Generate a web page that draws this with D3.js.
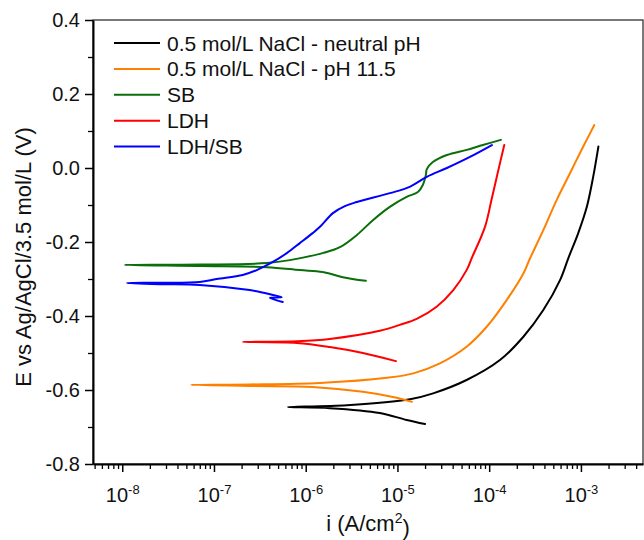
<!DOCTYPE html>
<html>
<head>
<meta charset="utf-8">
<script src="https://cdn.jsdelivr.net/npm/d3@7"></script>
<style>
  html, body { margin: 0; padding: 0; background: #fff; }
  svg { display: block; font-family: "Liberation Sans", Arial, sans-serif; }
</style>
</head>
<body>
<svg id="chart" width="644" height="540"></svg>
<script>
// Potentiodynamic polarization curves: current density i (A/cm²) vs potential E (V).
// Each sweep runs from the cathodic end, through the corrosion potential, up the anodic branch.

const seriesNames = [
  "0.5 mol/L NaCl - neutral pH",
  "0.5 mol/L NaCl - pH 11.5",
  "SB",
  "LDH",
  "LDH/SB"
];
const seriesColors = ["#000000", "#ff8000", "#0a6e0a", "#ff0000", "#0000ff"];

const neutralI = [2.0e-5, 1.26e-5, 6.43e-6, 1.83e-6, 6.38e-7,
                  2.81e-6, 1.37e-5, 2.45e-5, 5.67e-5, 1.31e-4, 2.36e-4, 3.89e-4,
                  5.92e-4, 7.28e-4, 9.35e-4, 1.16e-3, 1.36e-3, 1.55e-3];
const neutralE = [-0.692, -0.681, -0.662, -0.649, -0.646,
                  -0.641, -0.625, -0.609, -0.573, -0.519, -0.456, -0.384,
                  -0.303, -0.244, -0.176, -0.105, -0.024, 0.058];

const alkalineI = [1.44e-5, 8.91e-6, 4.20e-6, 1.19e-6, 2.45e-7, 5.58e-8,
                   2.45e-7, 1.43e-6, 7.66e-6, 1.49e-5, 2.90e-5, 5.67e-5, 9.40e-5,
                   1.55e-4, 2.36e-4, 2.79e-4, 3.89e-4, 5.45e-4, 7.60e-4, 1.06e-3, 1.40e-3];
const alkalineE = [-0.632, -0.619, -0.605, -0.592, -0.589, -0.586,
                   -0.585, -0.581, -0.567, -0.555, -0.528, -0.483, -0.429,
                   -0.357, -0.285, -0.244, -0.168, -0.086, -0.014, 0.058, 0.116];

const sbI = [4.52e-6, 2.54e-6, 1.53e-6, 8.63e-7, 3.77e-7, 7.0e-8, 1.06e-8,
             7.0e-8, 3.77e-7, 6.71e-7, 1.53e-6, 2.36e-6, 3.61e-6, 5.40e-6, 8.26e-6,
             1.26e-5, 1.67e-5, 1.89e-5, 2.04e-5, 2.09e-5, 2.43e-5, 3.46e-5, 5.71e-5,
             8.53e-5, 1.34e-4];
const sbE = [-0.305, -0.295, -0.281, -0.276, -0.268, -0.265, -0.262,
             -0.261, -0.257, -0.249, -0.230, -0.214, -0.181, -0.141, -0.105,
             -0.078, -0.065, -0.046, -0.019, -0.003, 0.016, 0.035, 0.049,
             0.062, 0.076];

const ldhI = [9.62e-6, 4.20e-6, 1.83e-6, 8.00e-7, 2.06e-7,
              8.00e-7, 1.83e-6, 6.43e-6, 1.06e-5, 1.62e-5, 2.67e-5, 4.06e-5,
              5.67e-5, 6.44e-5, 9.00e-5, 1.06e-4, 1.26e-4, 1.46e-4];
const ldhE = [-0.522, -0.500, -0.484, -0.473, -0.470,
              -0.468, -0.462, -0.440, -0.424, -0.408, -0.375, -0.330,
              -0.276, -0.244, -0.159, -0.086, -0.005, 0.062];

const ldhSbI = [5.62e-7, 4.06e-7, 5.48e-7, 4.38e-7, 3.58e-7, 2.45e-7, 7.0e-8, 2.56e-8, 1.12e-8,
                2.56e-8, 7.0e-8, 1.07e-7, 2.06e-7, 2.93e-7, 4.38e-7, 6.22e-7, 8.63e-7,
                1.19e-6, 1.43e-6, 1.98e-6, 2.67e-6, 3.61e-6, 8.26e-6, 1.36e-5, 2.09e-5,
                3.46e-5, 6.17e-5, 1.07e-4];
const ldhSbE = [-0.362, -0.351, -0.349, -0.343, -0.338, -0.330, -0.316, -0.314, -0.311,
                -0.310, -0.308, -0.300, -0.289, -0.276, -0.254, -0.230, -0.203,
                -0.176, -0.159, -0.122, -0.103, -0.092, -0.068, -0.051, -0.024,
                0.000, 0.030, 0.062];

const seriesI = [neutralI, alkalineI, sbI, ldhI, ldhSbI];
const seriesE = [neutralE, alkalineE, sbE, ldhE, ldhSbE];

// Axis limits and tick values
const xDomain = [4.8e-9, 4.75e-3];
const yDomain = [-0.8, 0.4];
const xMajorTicks = [1e-8, 1e-7, 1e-6, 1e-5, 1e-4, 1e-3];
const yMajorTicks = [-0.8, -0.6, -0.4, -0.2, 0.0, 0.2, 0.4];
const yMinorTicks = [-0.7, -0.5, -0.3, -0.1, 0.1, 0.3];
const xTitle = "i (A/cm";
const yTitle = "E vs Ag/AgCl/3.5 mol/L (V)";

// Layout
const plot = { left: 93, right: 643, top: 20, bottom: 464 };
const svg = d3.select("#chart");

const x = d3.scaleLog().domain(xDomain).range([plot.left, plot.right]);
const y = d3.scaleLinear().domain(yDomain).range([plot.bottom, plot.top]);

// Minor log ticks: 2..9 within each decade
const xMinorTicks = [];
for (let k = -9; k <= -3; k++) {
  for (let m = 2; m <= 9; m++) {
    const v = m * Math.pow(10, k);
    if (v >= xDomain[0] && v <= xDomain[1]) xMinorTicks.push(v);
  }
}

// Frame
svg.append("rect")
  .attr("x", plot.left).attr("y", plot.top)
  .attr("width", plot.right - plot.left).attr("height", plot.bottom - plot.top)
  .attr("fill", "none").attr("stroke", "#333").attr("stroke-width", 1.3);

// Curves
const line = d3.line()
  .x(d => x(d[0]))
  .y(d => y(d[1]))
  .curve(d3.curveCatmullRom.alpha(0.5));

seriesNames.forEach((name, s) => {
  const pts = seriesI[s].map((v, j) => [v, seriesE[s][j]]);
  svg.append("path")
    .datum(pts)
    .attr("d", line)
    .attr("fill", "none")
    .attr("stroke", seriesColors[s])
    .attr("stroke-width", 2)
    .attr("stroke-linejoin", "round")
    .attr("stroke-linecap", "round");
});

// Bottom axis: minor ticks, then major ticks with power-of-ten labels
svg.append("g")
  .attr("transform", `translate(0,${plot.bottom})`)
  .call(d3.axisBottom(x).tickValues(xMinorTicks).tickSize(5).tickFormat(""))
  .call(g => g.select(".domain").remove())
  .selectAll("line").attr("stroke", "#000").attr("stroke-width", 1.3);

const xAxisG = svg.append("g")
  .attr("transform", `translate(0,${plot.bottom})`)
  .call(d3.axisBottom(x).tickValues(xMajorTicks).tickSize(8).tickSizeOuter(0).tickPadding(9)
    .tickFormat(() => ""));
xAxisG.select(".domain").attr("stroke", "#000").attr("stroke-width", 2);
xAxisG.selectAll("line").attr("stroke", "#000").attr("stroke-width", 1.5);
xAxisG.selectAll(".tick text")
  .attr("font-family", "Liberation Sans, Arial, sans-serif")
  .attr("font-size", 20)
  .attr("fill", "#111")
  .attr("dy", "1.05em")
  .each(function(d) {
    const t = d3.select(this);
    t.append("tspan").text("10");
    t.append("tspan").attr("dy", "-0.6em").attr("font-size", 13)
      .text(String(Math.round(Math.log10(d))));
  });

// Left axis: minor ticks, then major ticks with decimal labels
svg.append("g")
  .attr("transform", `translate(${plot.left},0)`)
  .call(d3.axisLeft(y).tickValues(yMinorTicks).tickSize(5).tickFormat(""))
  .call(g => g.select(".domain").remove())
  .selectAll("line").attr("stroke", "#000").attr("stroke-width", 1.3);

const yAxisG = svg.append("g")
  .attr("transform", `translate(${plot.left},0)`)
  .call(d3.axisLeft(y).tickValues(yMajorTicks).tickSize(8).tickSizeOuter(0).tickPadding(5)
    .tickFormat(v => v.toFixed(1)));
yAxisG.select(".domain").attr("stroke", "#000").attr("stroke-width", 2);
yAxisG.selectAll("line").attr("stroke", "#000").attr("stroke-width", 1.5);
yAxisG.selectAll("text")
  .attr("font-family", "Liberation Sans, Arial, sans-serif")
  .attr("font-size", 20)
  .attr("fill", "#111");

// Axis titles
const xt = svg.append("text")
  .attr("x", (plot.left + plot.right) / 2)
  .attr("y", 531)
  .attr("text-anchor", "middle")
  .attr("font-size", 22)
  .attr("fill", "#111");
xt.append("tspan").text(xTitle);
xt.append("tspan").attr("dy", "-0.55em").attr("font-size", 14).text("2");
xt.append("tspan").attr("dy", "0.55em").text(")");

svg.append("text")
  .attr("transform", `translate(31,257) rotate(-90)`)
  .attr("text-anchor", "middle")
  .attr("font-size", 22)
  .attr("fill", "#111")
  .text(yTitle);

// Legend
const legend = svg.append("g");
seriesNames.forEach((name, s) => {
  const yy = 43 + s * 25.9;
  legend.append("line")
    .attr("x1", 114).attr("x2", 160).attr("y1", yy).attr("y2", yy)
    .attr("stroke", seriesColors[s]).attr("stroke-width", 2);
  legend.append("text")
    .attr("x", 167).attr("y", yy).attr("dy", "0.36em")
    .attr("font-size", 21)
    .attr("fill", "#111")
    .text(name);
});
</script>
</body>
</html>
